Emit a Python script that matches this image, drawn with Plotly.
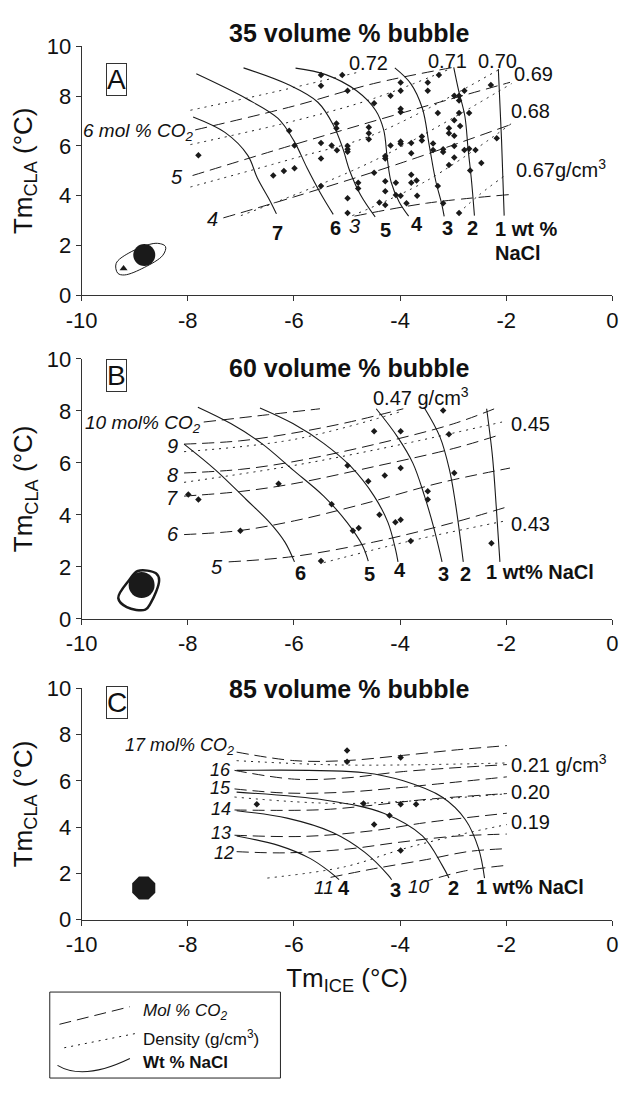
import plotly.graph_objects as go

FONT = "Liberation Sans, Arial, sans-serif"
INK = "#1a1a1a"
DASH = "12px,6px"
DOT = "2px,5px"

# ---------------- Panel A : 35 volume % bubble ----------------
A_nacl_labels = ["7", "6", "5", "4", "3", "2", "1"]
A_nacl_x = [[-7.90, -7.30, -6.87, -6.69, -6.45, -6.33],
            [-7.84, -6.90, -6.30, -6.00, -5.75, -5.50, -5.26],
            [-6.95, -6.10, -5.55, -5.25, -5.08, -4.95, -4.75, -4.47],
            [-5.97, -5.40, -4.82, -4.46, -4.31, -4.24, -4.17, -4.02, -3.84],
            [-4.10, -3.80, -3.58, -3.45, -3.33, -3.22, -3.17],
            [-2.99, -2.90, -2.78, -2.72, -2.66, -2.60],
            [-2.15, -2.09, -2.04]]
A_nacl_y = [[7.16, 6.54, 5.62, 4.71, 3.79, 3.27],
            [8.89, 7.90, 7.10, 6.20, 5.10, 4.10, 3.25],
            [9.13, 8.45, 7.75, 6.80, 5.90, 5.00, 4.05, 3.15],
            [9.12, 8.86, 8.21, 7.42, 6.64, 5.46, 4.55, 3.76, 3.18],
            [9.13, 8.50, 7.50, 6.00, 4.60, 3.70, 3.17],
            [9.15, 8.24, 7.19, 5.88, 4.71, 3.20],
            [9.08, 6.27, 3.20]]

A_mol_labels = ["6", "5", "4", "3"]
A_mol_x = [[-7.86, -6.0, -4.5, -3.0],
           [-7.91, -6.0, -4.0, -1.93],
           [-7.33, -6.0, -4.0, -1.91],
           [-4.86, -3.5, -1.91]]
A_mol_y = [[6.64, 7.60, 8.50, 9.15],
           [4.81, 6.05, 7.30, 8.55],
           [3.11, 3.95, 5.30, 6.86],
           [3.18, 3.70, 4.05]]

A_dens_labels = ["0.72", "0.71", "0.70", "0.69", "0.68", "0.67"]
A_dens_x = [[-7.95, -6.5, -4.8],
            [-7.95, -6.0, -4.5, -3.05],
            [-7.95, -6.0, -4.5, -2.15],
            [-7.0, -4.5, -1.9],
            [-4.9, -3.5, -1.9],
            [-2.9, -2.5, -2.0]]
A_dens_y = [[7.43, 8.10, 8.95],
            [6.05, 7.00, 7.90, 9.10],
            [4.35, 5.50, 6.45, 9.05],
            [3.20, 5.40, 8.50],
            [3.20, 4.60, 6.90],
            [3.30, 4.05, 4.85]]

A_pts_x = [-7.80, -6.39, -6.19, -5.99, -6.09, -5.99, -5.49, -5.49, -5.09, -4.99,
           -5.49, -5.49, -5.49, -5.29, -5.20, -5.20, -5.19, -4.99, -4.99, -4.99,
           -4.79, -4.79, -4.99, -4.99, -4.49, -4.59, -4.59, -4.59, -4.49, -4.39,
           -4.28, -4.28, -4.28, -4.28, -4.28, -4.18, -4.18, -4.08, -4.08, -3.99,
           -3.99, -3.99, -3.99, -3.99, -3.99, -3.88, -3.99, -3.79, -3.79, -3.79,
           -3.79, -3.69, -3.68, -3.59, -3.59, -3.48, -3.48, -3.29, -3.38, -3.38,
           -3.29, -3.19, -3.27, -3.19, -3.19, -3.08, -3.08, -3.08, -2.98, -2.98,
           -2.98, -2.98, -2.98, -2.89, -2.89, -2.89, -2.87, -2.79, -2.79, -2.70,
           -2.70, -2.68, -2.58, -2.47, -2.29, -2.18, -2.89]
A_pts_y = [5.62, 4.81, 4.99, 5.10, 6.61, 6.01, 8.84, 8.41, 8.84, 8.21,
           6.12, 5.49, 4.39, 6.01, 6.90, 6.71, 5.82, 5.99, 5.86, 5.76,
           4.52, 4.29, 3.90, 3.31, 7.71, 6.75, 6.51, 6.27, 4.92, 3.73,
           5.59, 5.49, 4.58, 4.18, 3.63, 8.01, 6.01, 4.52, 4.03, 8.54,
           7.49, 7.36, 6.18, 6.08, 4.00, 3.70, 8.21, 6.12, 5.70, 4.84,
           4.52, 4.61, 4.00, 6.38, 6.22, 8.54, 8.21, 7.32, 6.09, 5.83,
           4.39, 3.70, 8.84, 5.86, 5.75, 6.71, 6.51, 5.23, 7.03, 6.41,
           5.99, 5.53, 8.01, 8.01, 7.82, 7.32, 6.80, 8.21, 5.83, 5.88,
           7.32, 5.01, 5.83, 5.31, 8.44, 6.31, 3.31]

A_blob_x = [-8.82]
A_blob_y = [1.62]
A_ring_x = [-9.32, -9.35, -9.11, -8.60, -8.42, -8.47, -8.82, -9.19, -9.32]
A_ring_y = [0.89, 1.28, 1.70, 2.09, 1.96, 1.61, 1.12, 0.82, 0.89]
A_tri_x = [-9.21]
A_tri_y = [1.08]

# ---------------- Panel B : 60 volume % bubble ----------------
B_nacl_labels = ["6", "5", "4", "3", "2", "1"]
B_nacl_x = [[-8.07, -7.48, -6.90, -6.46, -6.17, -5.99],
            [-7.81, -7.19, -6.61, -6.02, -5.44, -5.00, -4.71, -4.60],
            [-6.64, -6.02, -5.44, -4.93, -4.49, -4.23, -4.09, -4.04],
            [-4.45, -4.05, -3.76, -3.54, -3.36, -3.21],
            [-3.55, -3.25, -3.07, -2.96, -2.81],
            [-2.37, -2.26, -2.19, -2.12]]
B_nacl_y = [[6.72, 5.73, 4.59, 3.71, 2.95, 2.19],
            [8.14, 7.51, 6.75, 5.73, 4.72, 3.71, 2.82, 2.22],
            [8.11, 7.51, 6.75, 5.86, 4.72, 3.71, 2.70, 2.19],
            [8.08, 7.00, 5.99, 4.72, 3.46, 2.19],
            [8.14, 7.00, 5.73, 4.47, 2.19],
            [8.08, 6.24, 4.34, 2.19]]

B_mol_labels = ["10", "9", "8", "7", "6", "5"]
B_mol_x = [[-7.70, -6.5, -5.51],
           [-8.07, -7.0, -6.0, -5.0, -3.94],
           [-8.07, -7.0, -6.0, -4.5, -3.0, -2.15],
           [-8.07, -7.0, -6.0, -4.5, -3.0, -2.15],
           [-8.07, -7.04, -5.99, -4.71, -3.25, -1.93],
           [-7.23, -6.0, -4.5, -3.0, -1.93]]
B_mol_y = [[7.57, 7.85, 8.08],
           [6.72, 6.85, 7.15, 7.55, 8.08],
           [5.61, 5.75, 6.05, 6.70, 7.50, 8.14],
           [4.72, 4.90, 5.20, 5.85, 6.55, 7.06],
           [3.24, 3.39, 3.77, 4.41, 5.23, 5.80],
           [2.19, 2.40, 2.95, 3.70, 4.34]]

B_dens_labels = ["0.47", "0.45", "0.43"]
B_dens_x = [[-8.07, -6.0, -3.94],
            [-8.07, -6.0, -4.0, -2.08],
            [-5.44, -3.8, -2.01]]
B_dens_y = [[6.43, 6.90, 8.00],
            [5.25, 5.90, 6.70, 7.57],
            [2.16, 3.00, 3.77]]

B_pts_x = [-7.99, -7.80, -7.01, -6.29, -5.29, -5.49, -4.99, -4.89, -4.78, -4.60,
           -4.49, -4.39, -4.29, -4.09, -3.99, -3.99, -3.99, -3.80, -3.48, -3.48,
           -3.19, -3.08, -2.98, -2.28]
B_pts_y = [4.78, 4.59, 3.39, 5.20, 4.41, 2.22, 5.90, 3.39, 3.49, 5.29,
           7.22, 4.00, 5.51, 3.71, 3.81, 7.22, 5.80, 2.99, 4.91, 4.59,
           8.01, 7.10, 5.61, 2.91]

B_blob_x = [-8.87]
B_blob_y = [1.30]
B_ring_x = [-9.31, -9.10, -8.94, -8.60, -8.54, -8.70, -8.80, -9.15, -9.31]
B_ring_y = [0.80, 1.50, 1.84, 1.75, 1.49, 0.60, 0.35, 0.45, 0.80]

# ---------------- Panel C : 85 volume % bubble ----------------
C_nacl_labels = ["4", "3", "2", "1"]
C_nacl_x = [[-7.08, -6.28, -5.69, -5.33, -5.15],
            [-7.08, -6.13, -5.26, -4.67, -4.23, -4.16],
            [-7.08, -5.40, -4.31, -3.58, -3.21, -3.08],
            [-7.08, -4.67, -3.94, -3.21, -2.77, -2.52, -2.41]]
C_nacl_y = [[3.62, 3.20, 2.64, 2.08, 1.73],
            [4.71, 4.39, 3.76, 2.92, 1.94, 1.73],
            [5.51, 5.16, 4.60, 3.62, 2.36, 1.80],
            [6.45, 6.35, 6.00, 5.30, 4.32, 3.06, 1.80]]

C_mol_labels = ["17", "16", "15", "14", "13", "12", "11", "10"]
C_mol_x = [[-7.08, -5.99, -5.04, -3.94, -2.92, -1.99],
           [-7.12, -5.99, -5.04, -3.94, -1.99],
           [-7.12, -6.13, -5.04, -3.94, -1.99],
           [-7.12, -5.50, -4.50, -3.50, -1.99],
           [-7.12, -5.80, -4.50, -3.50, -1.99],
           [-7.08, -6.13, -5.00, -4.00, -3.00, -1.99],
           [-5.31, -4.50, -3.50, -2.70, -1.99],
           [-3.60, -2.80, -1.99]]
C_mol_y = [[7.24, 6.87, 6.87, 7.10, 7.34, 7.52],
           [6.45, 6.07, 6.12, 6.40, 6.70],
           [5.65, 5.47, 5.51, 5.72, 6.17],
           [4.74, 4.75, 4.95, 5.20, 5.45],
           [3.65, 3.60, 3.85, 4.20, 4.60],
           [2.94, 2.89, 3.05, 3.35, 3.60, 3.70],
           [1.83, 2.20, 2.60, 2.95, 3.07],
           [1.60, 2.10, 2.35]]

C_dens_labels = ["0.21", "0.20", "0.19"]
C_dens_x = [[-7.08, -5.04, -1.99],
            [-7.12, -5.04, -1.99],
            [-6.50, -5.04, -3.94, -2.85, -1.99]]
C_dens_y = [[6.87, 6.68, 6.77],
            [5.30, 5.02, 5.44],
            [1.80, 2.29, 3.06, 3.69, 4.11]]

C_pts_x = [-6.70, -5.00, -5.00, -4.69, -4.49, -4.20, -3.99, -3.99, -3.99, -3.70]
C_pts_y = [4.99, 7.31, 6.82, 5.02, 4.11, 4.50, 7.01, 4.99, 2.99, 4.99]

C_blob_x = [-8.83]
C_blob_y = [1.37]

TICK_VALS = [-10, -8, -6, -4, -2, 0]
TICK_TEXT = ["-10", "-8", "-6", "-4", "-2", "0"]
Y_TICKS = [0, 2, 4, 6, 8, 10]

LEGEND_LABELS = ["<i>Mol % CO<sub>2</sub></i>", "Density (g/cm<sup>3</sup>)", "<b>Wt % NaCl</b>"]

fig = go.Figure()

panels = [
    ("x", "y", A_mol_x, A_mol_y, A_dens_x, A_dens_y, A_nacl_x, A_nacl_y, A_pts_x, A_pts_y),
    ("x2", "y2", B_mol_x, B_mol_y, B_dens_x, B_dens_y, B_nacl_x, B_nacl_y, B_pts_x, B_pts_y),
    ("x3", "y3", C_mol_x, C_mol_y, C_dens_x, C_dens_y, C_nacl_x, C_nacl_y, C_pts_x, C_pts_y),
]

for xa, ya, mx, my, dx, dy, nx, ny, px, py in panels:
    for xs, ys in zip(mx, my):
        fig.add_trace(go.Scatter(x=xs, y=ys, xaxis=xa, yaxis=ya, mode="lines",
                                 line=dict(color=INK, width=1, dash=DASH, shape="spline"),
                                 name="Mol % CO2", showlegend=False, hoverinfo="skip"))
    for xs, ys in zip(dx, dy):
        fig.add_trace(go.Scatter(x=xs, y=ys, xaxis=xa, yaxis=ya, mode="lines",
                                 line=dict(color=INK, width=1, dash=DOT, shape="spline"),
                                 name="Density", showlegend=False, hoverinfo="skip"))
    for xs, ys in zip(nx, ny):
        fig.add_trace(go.Scatter(x=xs, y=ys, xaxis=xa, yaxis=ya, mode="lines",
                                 line=dict(color=INK, width=1.1, shape="spline"),
                                 name="Wt % NaCl", showlegend=False, hoverinfo="skip"))
    fig.add_trace(go.Scatter(x=px, y=py, xaxis=xa, yaxis=ya, mode="markers",
                             marker=dict(symbol="diamond", size=5, color=INK),
                             showlegend=False, hoverinfo="skip"))

# inclusion blobs
fig.add_trace(go.Scatter(x=A_ring_x, y=A_ring_y, xaxis="x", yaxis="y", mode="lines",
                         line=dict(color=INK, width=1, shape="spline"), showlegend=False))
fig.add_trace(go.Scatter(x=A_blob_x, y=A_blob_y, xaxis="x", yaxis="y", mode="markers",
                         marker=dict(size=22, color=INK), showlegend=False))
fig.add_trace(go.Scatter(x=A_tri_x, y=A_tri_y, xaxis="x", yaxis="y", mode="markers",
                         marker=dict(symbol="triangle-up", size=7, color=INK), showlegend=False))
fig.add_trace(go.Scatter(x=B_ring_x, y=B_ring_y, xaxis="x2", yaxis="y2", mode="lines",
                         line=dict(color=INK, width=2.5, shape="spline"), showlegend=False))
fig.add_trace(go.Scatter(x=B_blob_x, y=B_blob_y, xaxis="x2", yaxis="y2", mode="markers",
                         marker=dict(size=26, color=INK), showlegend=False))
fig.add_trace(go.Scatter(x=C_blob_x, y=C_blob_y, xaxis="x3", yaxis="y3", mode="markers",
                         marker=dict(size=25, color=INK, symbol="octagon"), showlegend=False))

W = 631.0
H = 1093.0
XDOM = [68 / W, 618 / W]
def ydom(top, bottom):
    return [1 - bottom / H, 1 - top / H]
def px2paper(xp, yp):
    return xp / W, 1 - yp / H

axis_common = dict(showgrid=False, zeroline=False, showline=True, linecolor="#333",
                   linewidth=1.2, ticks="outside", ticklen=5, tickcolor="#333",
                   tickfont=dict(family=FONT, size=22, color="#111"))
ytitle = dict(text="Tm<sub>CLA</sub> (°C)", font=dict(family=FONT, size=26, color="#111"), standoff=6)

layout = dict(
    width=631, height=1093, margin=dict(l=0, r=0, t=0, b=0),
    paper_bgcolor="white", plot_bgcolor="white",
    font=dict(family=FONT, color="#111"),
    showlegend=False,
)
for i, (top, bot) in enumerate([(35, 290), (355, 621), (692, 929)]):
    sfx = "" if i == 0 else str(i + 1)
    layout["xaxis" + sfx] = dict(domain=XDOM, range=[-10, 0], anchor="y" + sfx,
                                 tickvals=TICK_VALS, ticktext=TICK_TEXT, **axis_common)
    layout["yaxis" + sfx] = dict(domain=ydom(top, bot), range=[0, 10], anchor="x" + sfx,
                                 tickvals=Y_TICKS, title=ytitle, **axis_common)
layout["xaxis3"]["title"] = dict(text="Tm<sub>ICE</sub> (°C)", font=dict(family=FONT, size=26, color="#111"), standoff=12)
fig.update_layout(**layout)

# ---- legend box (drawn like the original key) ----
bx0, by0 = px2paper(35, 1003)
bx1, by1 = px2paper(274, 1091)
fig.add_shape(type="rect", xref="paper", yref="paper", x0=bx0, y0=by1, x1=bx1, y1=by0,
              line=dict(color="#222", width=1), fillcolor="white")
lx0, ly0 = px2paper(45, 1036)
lx1, ly1 = px2paper(118, 1018)
fig.add_shape(type="line", xref="paper", yref="paper", x0=lx0, y0=ly0, x1=lx1, y1=ly1,
              line=dict(color=INK, width=1, dash=DASH))
lx0, ly0 = px2paper(50, 1060)
lx1, ly1 = px2paper(126, 1045)
fig.add_shape(type="line", xref="paper", yref="paper", x0=lx0, y0=ly0, x1=lx1, y1=ly1,
              line=dict(color=INK, width=1, dash=DOT))
p0 = px2paper(43, 1078)
pc = px2paper(70, 1094)
p1 = px2paper(118, 1071)
fig.add_shape(type="path", xref="paper", yref="paper",
              path="M %.5f,%.5f Q %.5f,%.5f %.5f,%.5f" % (p0[0], p0[1], pc[0], pc[1], p1[0], p1[1]),
              line=dict(color=INK, width=1.1))
for lab, yy in zip(LEGEND_LABELS, [1023, 1050, 1075]):
    tx, ty = px2paper(130, yy)
    fig.add_annotation(x=tx, y=ty, xref="paper", yref="paper", text=lab, showarrow=False,
                       xanchor="left", yanchor="middle",
                       font=dict(family=FONT, size=17, color="#111"))

def ann(xref, yref, x, y, text, size=19, xanchor="center", yanchor="middle", italic=False, bold=False):
    t = text
    if bold:
        t = "<b>" + t + "</b>"
    if italic:
        t = "<i>" + t + "</i>"
    fig.add_annotation(x=x, y=y, xref=xref, yref=yref, text=t, showarrow=False,
                       xanchor=xanchor, yanchor=yanchor,
                       font=dict(family=FONT, size=size, color="#111"))

# titles & panel letters
ann("paper", "paper", 345 / W, 1 - 22 / H, "35 volume % bubble", size=25, bold=True)
ann("paper", "paper", 345 / W, 1 - 364 / H, "60 volume % bubble", size=25, bold=True)
ann("paper", "paper", 345 / W, 1 - 693 / H, "85 volume % bubble", size=25, bold=True)
for lt, yy in [("A", 52), ("B", 372), ("C", 707)]:
    fig.add_annotation(x=93 / W, y=1 - yy / H, xref="paper", yref="paper", text=lt,
                       showarrow=False, font=dict(family=FONT, size=28, color="#111"),
                       bordercolor="#333", borderwidth=1, borderpad=0, bgcolor="white")

# Panel A labels
ann("x", "y", -7.86, 6.55, "6 mol % CO<sub>2</sub>", italic=True, xanchor="right")
ann("x", "y", -8.06, 4.75, "5", italic=True, size=20, xanchor="right")
ann("x", "y", -7.40, 3.05, "4", italic=True, size=20, xanchor="right")
ann("x", "y", -4.86, 2.78, "3", italic=True, size=20)
for lab, xx, yy in [("7", -6.31, 2.52), ("6", -5.22, 2.72), ("5", -4.28, 2.61),
                    ("4", -3.69, 2.85), ("3", -3.11, 2.72), ("2", -2.64, 2.72)]:
    ann("x", "y", xx, yy, lab, bold=True, size=20)
ann("x", "y", -2.25, 2.65, "1 wt %", bold=True, size=20, xanchor="left")
ann("x", "y", -2.25, 1.70, "NaCl", bold=True, size=20, xanchor="left")
for lab, xx, yy, xa in [("0.72", -4.6, 9.32, "center"), ("0.71", -3.11, 9.41, "center"),
                        ("0.70", -2.17, 9.41, "center"), ("0.69", -1.9, 8.9, "left"),
                        ("0.68", -1.95, 7.4, "left"), ("0.67g/cm<sup>3</sup>", -1.85, 5.1, "left")]:
    ann("x", "y", xx, yy, lab, size=20, xanchor=xa)

# Panel B labels
ann("x2", "y2", -7.72, 7.5, "10 mol% CO<sub>2</sub>", italic=True, xanchor="right")
for lab, xx, yy in [("9", -8.15, 6.65), ("8", -8.15, 5.54), ("7", -8.15, 4.66), ("6", -8.12, 3.27), ("5", -7.30, 2.0)]:
    ann("x2", "y2", xx, yy, lab, italic=True, size=20, xanchor="right")
for lab, xx, yy in [("6", -5.88, 1.75), ("5", -4.58, 1.72), ("4", -4.01, 1.87),
                    ("3", -3.18, 1.72), ("2", -2.77, 1.72)]:
    ann("x2", "y2", xx, yy, lab, bold=True, size=20)
ann("x2", "y2", -2.42, 1.80, "1 wt% NaCl", bold=True, size=20, xanchor="left")
ann("x2", "y2", -3.61, 8.55, "0.47 g/cm<sup>3</sup>", size=20)
ann("x2", "y2", -1.95, 7.5, "0.45", size=20, xanchor="left")
ann("x2", "y2", -1.95, 3.65, "0.43", size=20, xanchor="left")

# Panel C labels
ann("x3", "y3", -7.1, 7.5, "17 mol% CO<sub>2</sub>", italic=True, size=18, xanchor="right")
for lab, xx, yy in [("16", -7.15, 6.45), ("15", -7.15, 5.7), ("14", -7.15, 4.78),
                    ("13", -7.15, 3.75), ("12", -7.1, 2.88)]:
    ann("x3", "y3", xx, yy, lab, italic=True, size=18, xanchor="right")
ann("x3", "y3", -5.44, 1.4, "11", italic=True, size=19)
ann("x3", "y3", -3.65, 1.45, "10", italic=True, size=19)
for lab, xx, yy in [("4", -5.05, 1.35), ("3", -4.09, 1.3), ("2", -3.0, 1.35)]:
    ann("x3", "y3", xx, yy, lab, bold=True, size=20)
ann("x3", "y3", -2.6, 1.4, "1 wt% NaCl", bold=True, size=20, xanchor="left")
ann("x3", "y3", -1.95, 6.75, "0.21 g/cm<sup>3</sup>", size=20, xanchor="left")
ann("x3", "y3", -1.95, 5.5, "0.20", size=20, xanchor="left")
ann("x3", "y3", -1.95, 4.2, "0.19", size=20, xanchor="left")

fig.write_html("out.html")
